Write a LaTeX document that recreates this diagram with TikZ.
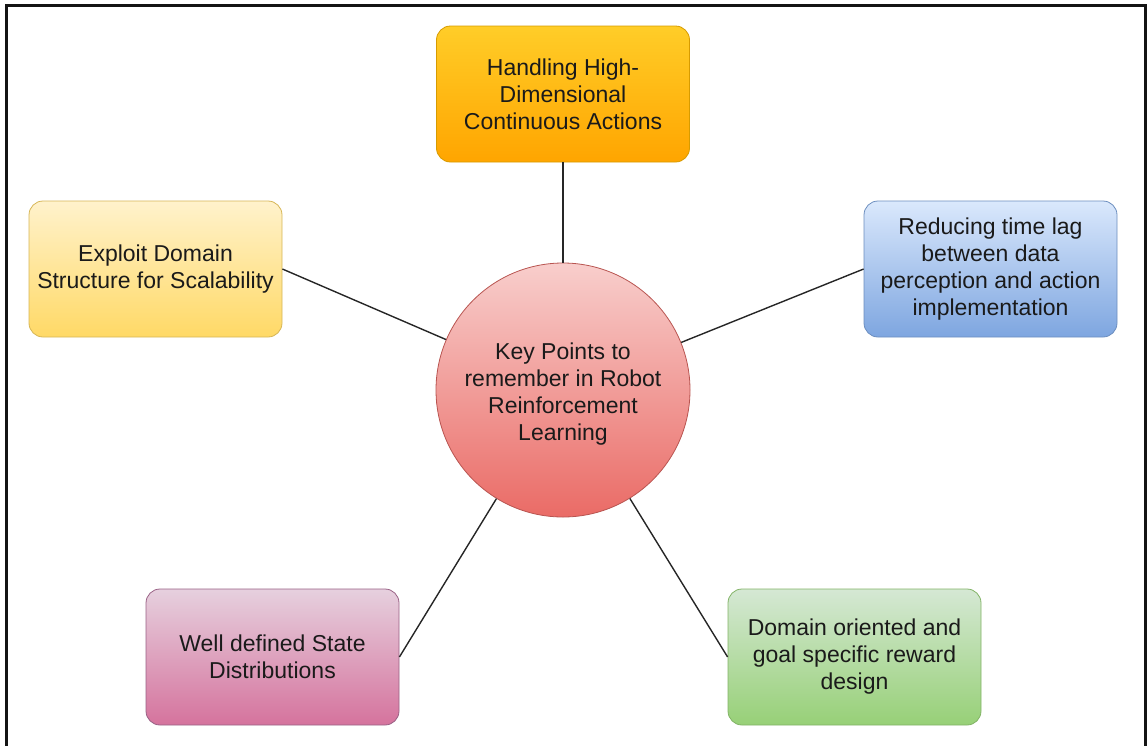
\documentclass[tikz,border=0pt]{standalone}
\usepackage{fontspec}
\setmainfont{Liberation Sans}
\definecolor{orTop}{HTML}{FFCD28}
\definecolor{orBot}{HTML}{FFA500}
\definecolor{orLine}{HTML}{D79B00}
\definecolor{yeTop}{HTML}{FFF2CC}
\definecolor{yeBot}{HTML}{FFD966}
\definecolor{yeLine}{HTML}{D6B656}
\definecolor{blTop}{HTML}{DAE8FC}
\definecolor{blBot}{HTML}{7EA6E0}
\definecolor{blLine}{HTML}{6C8EBF}
\definecolor{puTop}{HTML}{E6D0DE}
\definecolor{puBot}{HTML}{D5739D}
\definecolor{puLine}{HTML}{996185}
\definecolor{grTop}{HTML}{D5E8D4}
\definecolor{grBot}{HTML}{97D077}
\definecolor{grLine}{HTML}{82B366}
\definecolor{reTop}{HTML}{F8CECC}
\definecolor{reBot}{HTML}{EA6B66}
\definecolor{reLine}{HTML}{B85450}
\definecolor{txt}{HTML}{1A1A1A}
\begin{document}
\begin{tikzpicture}[x=1pt,y=-1pt,
  box/.style={rectangle, rounded corners=14pt, minimum width=253pt, minimum height=136pt,
    draw, line width=0.8pt, align=center, inner sep=0pt, text=txt,
    font=\fontsize{23}{27}\selectfont},
  hub/.style={circle, minimum size=254pt, draw, line width=0.8pt, inner sep=0pt},
  hubtxt/.style={align=center, inner sep=0pt, text=txt, font=\fontsize{23}{27}\selectfont},
  conn/.style={draw=black!85, line width=1.4pt}]
\useasboundingbox (0,0) rectangle (1147,745);
\draw[line width=3pt, draw=black!92] (6,5) rectangle (1145,770);

\node[hub, top color=reTop, bottom color=reBot, draw=reLine] (hubc) at (563,390) {};
\node[hubtxt] (hubtext) at ([yshift=-4pt]hubc.center)
  {Key Points to\\remember in Robot\\Reinforcement\\Learning};
\node[box, top color=orTop, bottom color=orBot, draw=orLine] (top) at (563,94)
  {Handling High-\\Dimensional\\Continuous Actions};
\node[box, top color=yeTop, bottom color=yeBot, draw=yeLine] (left) at (155.5,269)
  {Exploit Domain\\Structure for Scalability};
\node[box, top color=blTop, bottom color=blBot, draw=blLine] (right) at (990.5,269)
  {Reducing time lag\\between data\\perception and action\\implementation};
\node[box, top color=puTop, bottom color=puBot, draw=puLine] (bl) at (272.5,657)
  {Well defined State\\Distributions};
\node[box, top color=grTop, bottom color=grBot, draw=grLine] (br) at (854.5,657)
  {Domain oriented and\\goal specific reward\\design};

\draw[conn] (top) -- (hubc);
\draw[conn] (left.east) -- (hubc);
\draw[conn] (right.west) -- (hubc);
\draw[conn] (bl.east) -- (hubc);
\draw[conn] (br.west) -- (hubc);
\end{tikzpicture}
\end{document}
